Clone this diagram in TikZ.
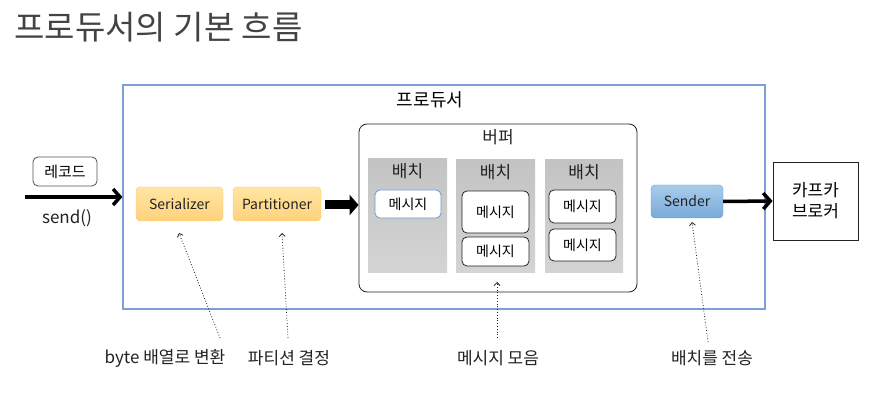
\documentclass[tikz,border=0pt]{standalone}
\usepackage{fontspec}
\setmainfont{Noto Sans CJK KR}
\usepackage{tikz}
\usetikzlibrary{arrows.meta,positioning}
\definecolor{ink}{HTML}{222222}
\definecolor{frameblue}{HTML}{7F9ED8}
\definecolor{yelltop}{HTML}{FFE5A3}
\definecolor{yellbot}{HTML}{FFD27C}
\definecolor{yellline}{HTML}{F6C66E}
\definecolor{bluetop}{HTML}{A9CBEB}
\definecolor{bluebot}{HTML}{78AAD9}
\definecolor{blueline}{HTML}{6A9AD3}
\definecolor{batchtop}{HTML}{C3C3C3}
\definecolor{batchbot}{HTML}{D4D4D4}

\begin{document}
\begin{tikzpicture}[x=1pt, y=-1pt,
  comp/.style={draw=yellline, rounded corners=4pt, top color=yelltop, bottom color=yellbot, minimum width=87pt, minimum height=34pt, font=\fontsize{14}{16}\selectfont, text=ink},
  batch/.style={top color=batchtop, bottom color=batchbot, minimum width=79pt, minimum height=114pt},
  msg/.style={draw=ink, line width=0.8pt, rounded corners=5pt, fill=white, minimum width=67pt, font=\fontsize{14}{16}\selectfont},
  lbl/.style={font=\fontsize{17}{19}\selectfont, text=ink},
  note/.style={font=\fontsize{17}{19}\selectfont, text=ink},
  big/.style={line width=3.5pt, -{Straight Barb[length=7pt,width=16pt]}},
  hint/.style={dotted, line width=0.8pt, draw=ink, -{Straight Barb[length=3pt,width=6pt]}}]
\useasboundingbox (0,0) rectangle (884,403);
% title
\node[anchor=west, font=\fontsize{33}{37}\selectfont, text=ink!85] (title) at (11,27) {프로듀서의 기본 흐름};
% producer frame
\node[draw=frameblue, line width=1.2pt, minimum width=642pt, minimum height=224pt] (prod) at (444,197) {};
\node[font=\fontsize{18}{20}\selectfont] (prodlbl) at (430,100) {프로듀서};
% record and send
\node[draw=ink!80, line width=0.8pt, rounded corners=5pt, minimum width=64pt, minimum height=29pt, font=\fontsize{15}{17}\selectfont] (rec) at (65,171.5) {레코드};
\coordinate (in) at (25,197);
\draw[big] (in) -- (prod.west |- in);
\node[note] (send) at (67,218) {send()};
% components
\node[comp] (ser) at (179.5,204) {Serializer};
\node[comp, minimum width=88pt] (part) at (277,204) {Partitioner};
% buffer
\node[draw=ink, line width=0.8pt, rounded corners=8pt, minimum width=278pt, minimum height=168pt] (buf) at (498,208) {};
\node[lbl] (buflbl) at (498,137) {버퍼};
\coordinate (mid) at (325,205);
\draw[line width=9pt, -{Triangle[length=9pt,width=20pt]}] (mid) -- (buf.west |- mid);
% batches
\node[batch] (b1) at (407.5,215.5) {};
\node[batch, minimum height=113pt] (b2) at (495.5,216.5) {};
\node[batch, minimum height=113pt, minimum width=78pt] (b3) at (584,216.5) {};
\node[lbl] at (407.5,171) {배치};
\node[lbl] at (495.5,172) {배치};
\node[lbl] at (584,172) {배치};
% messages
\node[msg, draw=blueline, minimum width=66pt, minimum height=28pt] (m11) at (408,204) {메시지};
\node[msg, minimum height=42pt] (m21) at (495.5,212) {메시지};
\node[msg, minimum height=29pt] (m22) at (495.5,251.5) {메시지};
\node[msg, minimum height=33pt] (m31) at (582.5,206.5) {메시지};
\node[msg, minimum height=32pt] (m32) at (582.5,245) {메시지};
% sender and broker
\node[comp, draw=blueline, top color=bluetop, bottom color=bluebot, minimum width=72pt, minimum height=33pt] (snd) at (687,201.5) {Sender};
\node[draw=ink, line width=0.8pt, minimum width=85pt, minimum height=78pt, align=center, font=\fontsize{17}{21}\selectfont] (brk) at (815.5,201) {카프카\\브로커};
\draw[big] (snd.east) -- (brk.west);
% notes
\node[note] (n1) at (165,358) {byte 배열로 변환};
\node[note] (n2) at (289,358) {파티션 결정};
\node[note] (n3) at (498,358) {메시지 모음};
\node[note] (n4) at (712,358) {배치를 전송};
\coordinate (s1) at (220,338);
\coordinate (s2) at (288,338);
\coordinate (s3) at (497,338);
\coordinate (s4) at (708,342);
\coordinate (t1) at (179,233);
\coordinate (t2) at (282,233);
\coordinate (t3) at (497,282);
\coordinate (t4) at (692,222);
\draw[hint] (s1) -- (t1);
\draw[hint] (s2) -- (t2);
\draw[hint] (s3) -- (t3);
\draw[hint] (s4) -- (t4);
\end{tikzpicture}
\end{document}
